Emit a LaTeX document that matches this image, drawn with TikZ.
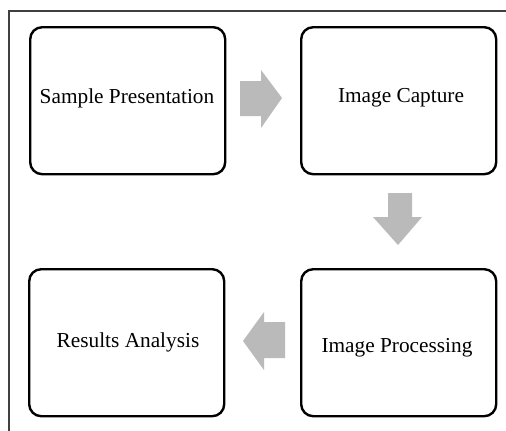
\documentclass[tikz,border=0pt]{standalone}
\usepackage{fontspec}
\setmainfont{Liberation Serif}
\begin{document}
\begin{tikzpicture}[x=1pt,y=-1pt,
  stepbox/.style={draw=black,line width=2.4pt,rounded corners=12pt,fill=white,
    minimum width=195pt,minimum height=147pt,inner sep=0pt,anchor=north west},
  txt/.style={font=\fontsize{21.3}{25}\selectfont,text=black},
  blockarrow/.style={fill=black!27,draw=none}]
\useasboundingbox (0,0) rectangle (506,431);
\fill[white] (0,0) rectangle (506,431);
\draw[line width=1.5pt,black!75] (9,431) -- (9,11) -- (506,11);
\node[stepbox] (b1) at (29,26) {};
\node[stepbox] (b2) at (300,26) {};
\node[stepbox] (b3) at (28,268) {};
\node[stepbox] (b4) at (300,268) {};
\node[txt] (t1) at (127,98) {Sample Presentation};
\node[txt] (t2) at (401,98) {Image Capture};
\node[txt] (t3) at (128,342) {Results Analysis};
\node[txt] (t4) at (397,348) {Image Processing};
% block arrows
\fill[blockarrow] (240,81) -- (261,81) -- (261,70) -- (282,98) -- (261,128) -- (261,116) -- (240,116) -- cycle;
\fill[blockarrow] (388,193) -- (412,193) -- (412,217) -- (422,217) -- (398,245) -- (373,217) -- (388,217) -- cycle;
\fill[blockarrow] (285,322) -- (264,322) -- (264,312) -- (243,341) -- (264,370) -- (264,358) -- (285,358) -- cycle;
\end{tikzpicture}
\end{document}
